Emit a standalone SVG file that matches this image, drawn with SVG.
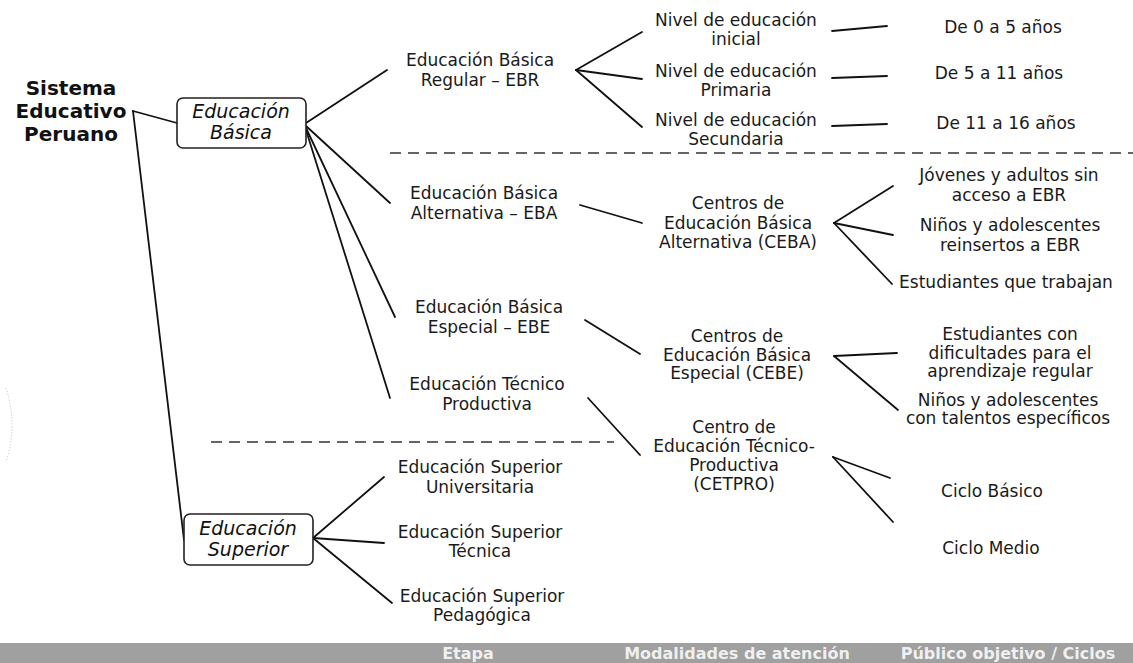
<svg xmlns="http://www.w3.org/2000/svg" width="1133" height="663" viewBox="0 0 1133 663">
<style>
.t{font-family:"DejaVu Sans","Liberation Sans",sans-serif;font-size:17px;fill:#1a1a1a;text-anchor:middle}
.ttl{font-family:"DejaVu Sans","Liberation Sans",sans-serif;font-size:20px;font-weight:bold;fill:#111;text-anchor:middle}
.bx{font-family:"DejaVu Sans","Liberation Sans",sans-serif;font-size:19px;font-style:italic;fill:#111;text-anchor:middle}
.box{fill:#fff;stroke:#222;stroke-width:1.6}
.ln{stroke:#111;stroke-width:1.8;fill:none;stroke-linecap:round}
.dash{stroke:#333;stroke-width:1.6;fill:none;stroke-dasharray:11 7}
.band{font-family:"DejaVu Sans","Liberation Sans",sans-serif;font-size:16px;font-weight:bold;fill:#fff;fill-opacity:0.85;text-anchor:middle}
</style>
<rect width="1133" height="663" fill="#fff"/>
<path d="M6 388 Q18 425 6 462" fill="none" stroke="#bbb" stroke-width="1" stroke-dasharray="1 2"/>
<g id="connectors">
<line class="ln" x1="133" y1="111" x2="177" y2="123"/>
<line class="ln" x1="133" y1="111" x2="184" y2="540"/>
<line class="ln" x1="306" y1="123" x2="387" y2="70"/>
<line class="ln" x1="306" y1="126" x2="390" y2="203"/>
<line class="ln" x1="306" y1="128" x2="395" y2="317"/>
<line class="ln" x1="306" y1="130" x2="390" y2="398"/>
<line class="ln" x1="576" y1="70" x2="642" y2="32"/>
<line class="ln" x1="576" y1="70" x2="642" y2="79"/>
<line class="ln" x1="576" y1="70" x2="642" y2="127"/>
<line class="ln" x1="832" y1="31" x2="887" y2="26"/>
<line class="ln" x1="832" y1="78" x2="887" y2="76"/>
<line class="ln" x1="832" y1="126" x2="887" y2="124"/>
<line class="ln" x1="580" y1="205" x2="642" y2="223"/>
<line class="ln" x1="834" y1="223" x2="893" y2="186"/>
<line class="ln" x1="834" y1="223" x2="893" y2="235"/>
<line class="ln" x1="834" y1="223" x2="892" y2="284"/>
<line class="ln" x1="585" y1="320" x2="640" y2="354"/>
<line class="ln" x1="834" y1="356" x2="897" y2="353"/>
<line class="ln" x1="834" y1="356" x2="898" y2="410"/>
<line class="ln" x1="588" y1="398" x2="640" y2="455"/>
<line class="ln" x1="833" y1="457" x2="890" y2="478"/>
<line class="ln" x1="833" y1="457" x2="893" y2="522"/>
<line class="ln" x1="313" y1="538" x2="384" y2="477"/>
<line class="ln" x1="313" y1="538" x2="384" y2="543"/>
<line class="ln" x1="313" y1="538" x2="392" y2="603"/>
<line class="dash" x1="390" y1="153" x2="1133" y2="153"/>
<line class="dash" x1="211" y1="442" x2="614" y2="442"/>
</g>
<g id="sistema">
<text class="ttl" x="71" y="95">Sistema</text>
<text class="ttl" x="71" y="118">Educativo</text>
<text class="ttl" x="71" y="141">Peruano</text>
</g>
<g id="basica">
<rect class="box" x="177" y="98" width="129" height="50" rx="6"/>
<text class="bx" x="241" y="118">Educación</text>
<text class="bx" x="241" y="139">Básica</text>
</g>
<g id="superior">
<rect class="box" x="184" y="514" width="129" height="51" rx="6"/>
<text class="bx" x="248" y="535">Educación</text>
<text class="bx" x="248" y="556">Superior</text>
</g>
<g id="ebr"><text class="t" x="480" y="66">Educación Básica</text><text class="t" x="480" y="86">Regular – EBR</text></g>
<g id="eba"><text class="t" x="484" y="199">Educación Básica</text><text class="t" x="484" y="219">Alternativa – EBA</text></g>
<g id="ebe"><text class="t" x="489" y="313">Educación Básica</text><text class="t" x="489" y="333">Especial – EBE</text></g>
<g id="etp"><text class="t" x="487" y="390">Educación Técnico</text><text class="t" x="487" y="410">Productiva</text></g>
<g id="inicial"><text class="t" x="736" y="26">Nivel de educación</text><text class="t" x="736" y="45">inicial</text></g>
<g id="primaria"><text class="t" x="736" y="77">Nivel de educación</text><text class="t" x="736" y="96">Primaria</text></g>
<g id="secundaria"><text class="t" x="736" y="126">Nivel de educación</text><text class="t" x="736" y="145">Secundaria</text></g>
<g id="edad1"><text class="t" x="1003" y="33">De 0 a 5 años</text></g>
<g id="edad2"><text class="t" x="999" y="79">De 5 a 11 años</text></g>
<g id="edad3"><text class="t" x="1006" y="129">De 11 a 16 años</text></g>
<g id="ceba"><text class="t" x="738" y="209">Centros de</text><text class="t" x="738" y="229">Educación Básica</text><text class="t" x="738" y="248">Alternativa (CEBA)</text></g>
<g id="jovenes"><text class="t" x="1009" y="181">Jóvenes y adultos sin</text><text class="t" x="1009" y="201">acceso a EBR</text></g>
<g id="ninos1"><text class="t" x="1010" y="231">Niños y adolescentes</text><text class="t" x="1010" y="251">reinsertos a EBR</text></g>
<g id="trabajan"><text class="t" x="1006" y="288">Estudiantes que trabajan</text></g>
<g id="cebe"><text class="t" x="737" y="342">Centros de</text><text class="t" x="737" y="361">Educación Básica</text><text class="t" x="737" y="379">Especial (CEBE)</text></g>
<g id="dificultades"><text class="t" x="1010" y="340">Estudiantes con</text><text class="t" x="1010" y="359">dificultades para el</text><text class="t" x="1010" y="377">aprendizaje regular</text></g>
<g id="talentos"><text class="t" x="1008" y="406">Niños y adolescentes</text><text class="t" x="1008" y="424">con talentos específicos</text></g>
<g id="cetpro"><text class="t" x="734" y="433">Centro de</text><text class="t" x="734" y="452">Educación Técnico-</text><text class="t" x="734" y="471">Productiva</text><text class="t" x="734" y="490">(CETPRO)</text></g>
<g id="ciclobasico"><text class="t" x="992" y="497">Ciclo Básico</text></g>
<g id="ciclomedio"><text class="t" x="991" y="554">Ciclo Medio</text></g>
<g id="univ"><text class="t" x="480" y="473">Educación Superior</text><text class="t" x="480" y="493">Universitaria</text></g>
<g id="tecnica"><text class="t" x="480" y="538">Educación Superior</text><text class="t" x="480" y="557">Técnica</text></g>
<g id="pedagogica"><text class="t" x="482" y="602">Educación Superior</text><text class="t" x="482" y="621">Pedagógica</text></g>
<g id="footer">
<rect x="0" y="643" width="1133" height="20" fill="#a0a0a0"/>
<text class="band" x="468" y="659">Etapa</text>
<text class="band" x="737" y="659">Modalidades de atención</text>
<text class="band" x="1008" y="659">Público objetivo / Ciclos</text>
</g>
</svg>
